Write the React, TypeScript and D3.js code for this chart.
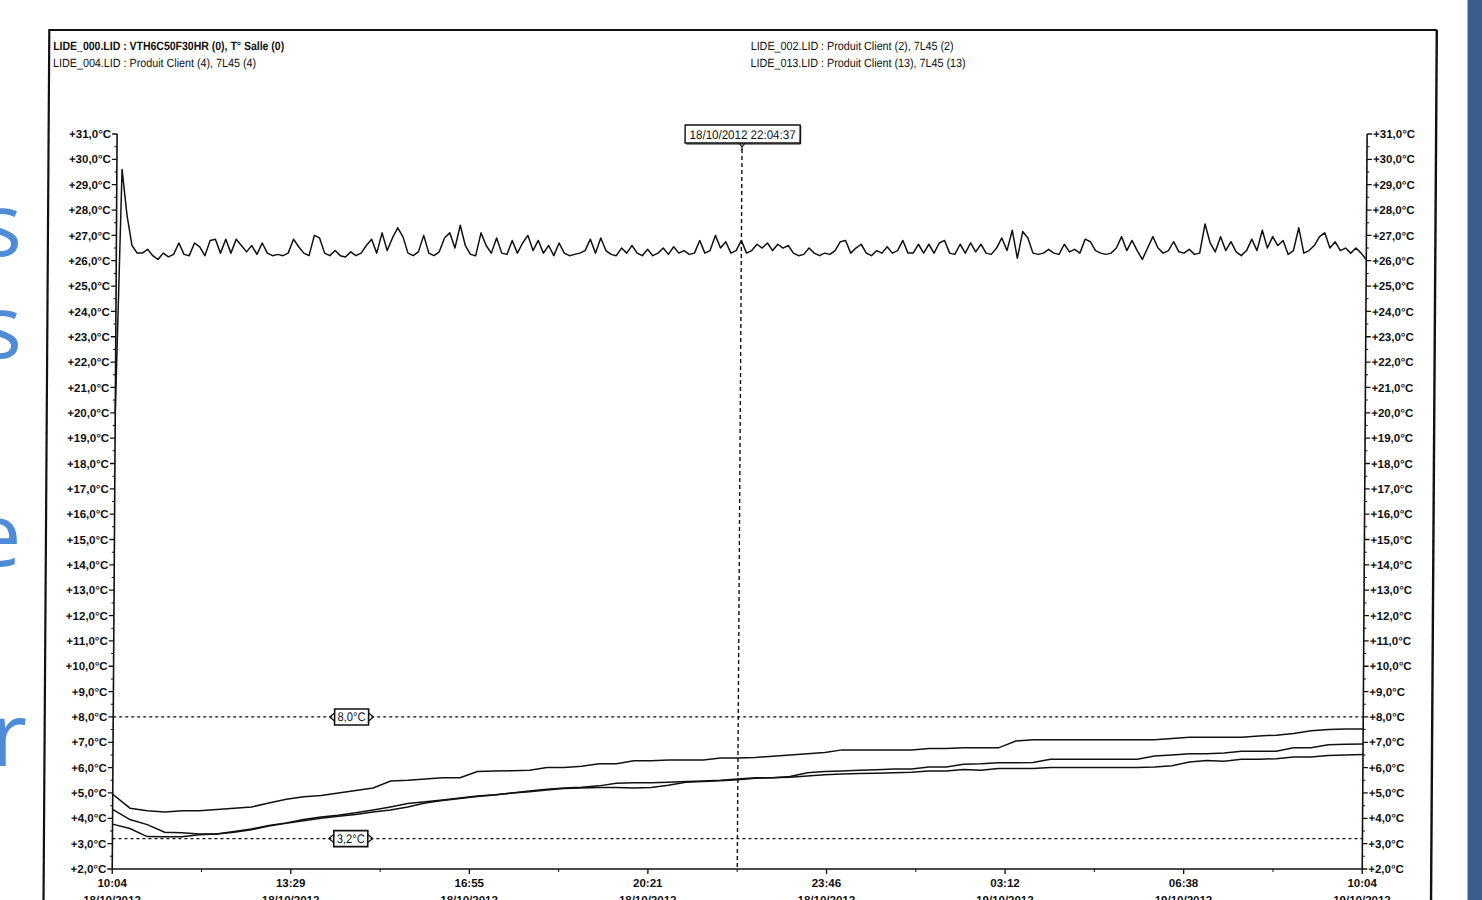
import React from "react";
import * as d3 from "d3";

// ---------- DATA ----------
const legendLeft = [
  "LIDE_000.LID : VTH6C50F30HR (0), T° Salle (0)",
  "LIDE_004.LID : Produit Client (4), 7L45 (4)",
];
const legendRight = [
  "LIDE_002.LID : Produit Client (2), 7L45 (2)",
  "LIDE_013.LID : Produit Client (13), 7L45 (13)",
];

// x axis: minutes since 18/10/2012 10:04
const timeTickMinutes = [0, 205.7, 411.4, 617.1, 822.9, 1028.6, 1234.3, 1440];
const timeTickLabels = ["10:04", "13:29", "16:55", "20:21", "23:46", "03:12", "06:38", "10:04"];
const timeTickDates = [
  "18/10/2012", "18/10/2012", "18/10/2012", "18/10/2012",
  "18/10/2012", "19/10/2012", "19/10/2012", "19/10/2012",
];

const thresholdValues = [8.0, 3.2];
const thresholdLabels = ["8,0°C", "3,2°C"];

const cursorMinute = 720;
const cursorLabel = "18/10/2012 22:04:37";

// LIDE_000 room temperature, one reading every 6 minutes
const ROOM_STEP_MIN = 6;
const roomTemp = [
  20.0, 29.6, 27.8, 26.6, 26.3, 26.3, 26.45, 26.2, 26.05, 26.3,
  26.15, 26.25, 26.7, 26.25, 26.2, 26.7, 26.55, 26.2, 26.8, 26.85,
  26.3, 26.85, 26.3, 26.85, 26.6, 26.35, 26.6, 26.25, 26.7, 26.3,
  26.2, 26.25, 26.2, 26.3, 26.85, 26.55, 26.3, 26.2, 27.0, 26.9,
  26.3, 26.2, 26.4, 26.2, 26.15, 26.35, 26.2, 26.3, 26.6, 26.85,
  26.3, 27.1, 26.4, 26.9, 27.3, 26.95, 26.3, 26.2, 26.35, 27.0,
  26.3, 26.2, 26.35, 26.9, 27.1, 26.5, 27.4, 26.6, 26.25, 26.2,
  27.1, 26.6, 26.3, 26.9, 26.3, 26.25, 26.8, 26.3, 26.7, 27.0,
  26.4, 26.8, 26.3, 26.6, 26.2, 26.7, 26.3, 26.2, 26.25, 26.3,
  26.4, 26.85, 26.3, 26.9, 26.4, 26.25, 26.2, 26.5, 26.3, 26.6,
  26.3, 26.2, 26.45, 26.2, 26.3, 26.5, 26.25, 26.55, 26.3, 26.4,
  26.25, 26.3, 26.8, 26.3, 26.4, 27.0, 26.5, 26.75, 26.3, 26.4,
  26.8, 26.3, 26.4, 26.65, 26.5, 26.7, 26.4, 26.65, 26.5, 26.6,
  26.3, 26.2, 26.25, 26.5, 26.3, 26.2, 26.3, 26.25, 26.4, 26.75,
  26.8, 26.3, 26.5, 26.65, 26.3, 26.2, 26.4, 26.3, 26.55, 26.3,
  26.4, 26.8, 26.3, 26.3, 26.65, 26.3, 26.65, 26.3, 26.7, 26.8,
  26.3, 26.25, 26.65, 26.3, 26.7, 26.35, 26.65, 26.3, 26.25, 26.5,
  26.9, 26.4, 27.2, 26.1, 27.15, 26.9, 26.3, 26.25, 26.3, 26.45,
  26.3, 26.25, 26.65, 26.35, 26.45, 26.3, 26.85, 26.75, 26.4, 26.3,
  26.25, 26.3, 26.5, 26.95, 26.4, 26.8, 26.4, 26.05, 26.5, 26.95,
  26.5, 26.3, 26.4, 26.75, 26.35, 26.3, 26.45, 26.25, 26.3, 27.45,
  26.7, 26.35, 26.95, 26.4, 26.75, 26.35, 26.2, 26.4, 26.85, 26.4,
  27.2, 26.5, 26.95, 26.6, 26.8, 26.25, 26.4, 27.3, 26.3, 26.4,
  26.6, 26.95, 27.1, 26.5, 26.75, 26.4, 26.5, 26.3, 26.5, 26.3,
  26.05,
];

// Product probes, one reading every 20 minutes
const PRODUCT_STEP_MIN = 20;
const productUpper = [
  4.95, 4.4, 4.3, 4.25, 4.3, 4.3, 4.35, 4.4, 4.45, 4.6,
  4.75, 4.85, 4.9, 5.0, 5.1, 5.2, 5.47, 5.5, 5.55, 5.6,
  5.6, 5.85, 5.87, 5.88, 5.9, 6.0, 6.0, 6.05, 6.15, 6.15,
  6.27, 6.27, 6.3, 6.3, 6.3, 6.38, 6.38, 6.4, 6.45, 6.5,
  6.55, 6.6, 6.7, 6.7, 6.7, 6.7, 6.7, 6.75, 6.75, 6.78,
  6.78, 6.78, 7.05, 7.1, 7.1, 7.1, 7.1, 7.1, 7.1, 7.1,
  7.1, 7.15, 7.2, 7.2, 7.2, 7.2, 7.25, 7.28, 7.35, 7.45,
  7.5, 7.52, 7.52,
];
const productMiddle = [
  4.35, 3.95, 3.75, 3.45, 3.43, 3.38, 3.38, 3.48, 3.58, 3.72,
  3.82, 3.95, 4.05, 4.12, 4.22, 4.33, 4.45, 4.58, 4.65, 4.72,
  4.8, 4.88, 4.93, 5.0, 5.08, 5.15, 5.2, 5.23, 5.28, 5.38,
  5.4, 5.4, 5.42, 5.45, 5.47, 5.5, 5.55, 5.6, 5.6, 5.65,
  5.8, 5.85, 5.87, 5.9, 5.92, 5.95, 5.95, 6.02, 6.02, 6.13,
  6.15, 6.19, 6.19, 6.2, 6.33, 6.33, 6.33, 6.33, 6.33, 6.33,
  6.46, 6.5, 6.55, 6.55, 6.58, 6.65, 6.65, 6.65, 6.78, 6.78,
  6.9, 6.92, 6.93,
];
const productLower = [
  3.77, 3.6, 3.28, 3.27, 3.27, 3.35, 3.38, 3.45, 3.55, 3.7,
  3.8, 3.9, 4.0, 4.08, 4.15, 4.25, 4.33, 4.45, 4.6, 4.7,
  4.78, 4.86, 4.92, 5.0, 5.05, 5.12, 5.18, 5.2, 5.22, 5.22,
  5.2, 5.22, 5.3, 5.42, 5.45, 5.48, 5.52, 5.58, 5.6, 5.62,
  5.67, 5.72, 5.75, 5.77, 5.78, 5.8, 5.82, 5.87, 5.87, 5.93,
  5.9, 5.97, 5.97, 5.97, 6.0, 6.0, 6.0, 6.0, 6.0, 6.0,
  6.02, 6.07, 6.22, 6.28, 6.25, 6.33, 6.33, 6.35, 6.42, 6.42,
  6.48, 6.5, 6.52,
];

// slide text fragments visible at the left edge
const slideLetters = ["s", "s", "e", "r"];

// ---------- COMPONENT ----------
const fmtTemp = (v: number) => `+${v.toFixed(1).replace(".", ",")}°C`;

export default function App() {
  const W = 1482;
  const H = 900;
  const x = d3.scaleLinear().domain([0, 1440]).range([118, 1368]);
  const y = d3.scaleLinear().domain([2, 31]).range([869, 134]);
  const [y0, y1] = y.domain();
  const majorY = d3.range(y0, y1 + 0.001, 1);
  const minorY = d3.range(y0, y1, 0.5).filter((v) => v % 1 !== 0);
  const minorX = timeTickMinutes.slice(1).map((m, i) => (m + timeTickMinutes[i]) / 2);

  const roomLine = d3
    .line<number>()
    .x((_, i) => x(i * ROOM_STEP_MIN))
    .y((d) => y(d));
  const prodLine = d3
    .line<number>()
    .x((_, i) => x(i * PRODUCT_STEP_MIN))
    .y((d) => y(d));

  const font = "'Liberation Sans', Arial, sans-serif";
  const xL = x.range()[0];
  const xR = x.range()[1];
  const yB = y.range()[0];
  const yT = y.range()[1];
  const cx = x(cursorMinute);

  const letterY = [256, 358, 566, 766];
  const letterX = [22, 22, 21.5, 27];
  const legendLeftW = [231, 203];
  const legendRightW = [203, 215];

  return (
    <div style={{ position: "fixed", left: 0, top: 0, width: W, height: H, background: "#fff" }}>
      <svg width={W} height={H} style={{ display: "block" }}>
        <rect width={W} height={H} fill="#fff" />
        {slideLetters.map((s, i) => (
          <text
            key={"l" + i}
            x={letterX[i]}
            y={letterY[i]}
            textAnchor="end"
            fontFamily="'Open Sans', 'Noto Sans', sans-serif"
            fontSize={88}
            fill="#4e8cd8"
          >
            {s}
          </text>
        ))}
        <rect x={1467.5} y={0} width={W - 1467.5} height={H} fill="#3b5e8c" />

        <g transform="skewX(-0.38)">
          {/* outer frame */}
          <line x1={48.5} y1={30} x2={1437} y2={30} stroke="#111" strokeWidth={2} />
          <line x1={49.5} y1={30} x2={49.5} y2={H + 10} stroke="#111" strokeWidth={2.2} />
          <line x1={1437} y1={30} x2={1437} y2={H + 10} stroke="#111" strokeWidth={2.4} />

          {/* legend */}
          {legendLeft.map((t, i) => (
            <text
              key={"ll" + i}
              x={53.5}
              y={50 + i * 17}
              fontFamily={font}
              fontSize={12}
              textLength={legendLeftW[i]}
              lengthAdjust="spacingAndGlyphs"
              fill="#111"
              fontWeight={i === 0 ? 600 : 400}
            >
              {t}
            </text>
          ))}
          {legendRight.map((t, i) => (
            <text
              key={"lr" + i}
              x={751}
              y={50 + i * 17}
              fontFamily={font}
              fontSize={12}
              textLength={legendRightW[i]}
              lengthAdjust="spacingAndGlyphs"
              fill="#111"
            >
              {t}
            </text>
          ))}

          {/* left / right / bottom axes */}
          <line x1={xL} y1={yT} x2={xL} y2={yB} stroke="#111" strokeWidth={1.6} />
          <line x1={xR} y1={yT} x2={xR} y2={yB} stroke="#111" strokeWidth={1.6} />
          <line x1={xL} y1={yB} x2={xR} y2={yB} stroke="#111" strokeWidth={1.6} />

          {majorY.map((v) => (
            <g key={"my" + v}>
              <line x1={xL - 5} x2={xL} y1={y(v)} y2={y(v)} stroke="#111" strokeWidth={1.3} />
              <line x1={xR} x2={xR + 5} y1={y(v)} y2={y(v)} stroke="#111" strokeWidth={1.3} />
              <text
                x={xL - 6}
                y={y(v)}
                dy="0.36em"
                textAnchor="end"
                fontFamily={font}
                fontWeight="bold"
                fontSize={11.5}
                fill="#111"
              >
                {fmtTemp(v)}
              </text>
              <text
                x={xR + 6}
                y={y(v)}
                dy="0.36em"
                textAnchor="start"
                fontFamily={font}
                fontWeight="bold"
                fontSize={11.5}
                fill="#111"
              >
                {fmtTemp(v)}
              </text>
            </g>
          ))}
          {minorY.map((v) => (
            <g key={"mi" + v}>
              <line x1={xL - 2.5} x2={xL} y1={y(v)} y2={y(v)} stroke="#111" strokeWidth={1} />
              <line x1={xR} x2={xR + 2.5} y1={y(v)} y2={y(v)} stroke="#111" strokeWidth={1} />
            </g>
          ))}

          {timeTickMinutes.map((m, i) => (
            <g key={"tx" + i}>
              <line x1={x(m)} x2={x(m)} y1={yB} y2={yB + 5} stroke="#111" strokeWidth={1.3} />
              <text
                x={x(m)}
                y={887}
                textAnchor="middle"
                fontFamily={font}
                fontWeight="bold"
                fontSize={11.5}
                fill="#111"
              >
                {timeTickLabels[i]}
              </text>
              <text
                x={x(m)}
                y={904}
                textAnchor="middle"
                fontFamily={font}
                fontWeight="bold"
                fontSize={11.5}
                fill="#111"
              >
                {timeTickDates[i]}
              </text>
            </g>
          ))}
          {minorX.map((m, i) => (
            <line key={"mx" + i} x1={x(m)} x2={x(m)} y1={yB} y2={yB + 3} stroke="#111" strokeWidth={1} />
          ))}

          {/* thresholds */}
          {thresholdValues.map((v, i) => {
            const ty = y(v);
            const bx = x(255);
            const bw = 34;
            return (
              <g key={"th" + i}>
                <line
                  x1={xL}
                  x2={xR}
                  y1={ty}
                  y2={ty}
                  stroke="#111"
                  strokeWidth={1.3}
                  strokeDasharray="3 3"
                />
                <path
                  d={`M${bx - 5},${ty} L${bx},${ty - 4} M${bx - 5},${ty} L${bx},${ty + 4} M${bx + bw + 5},${ty} L${bx + bw},${ty - 4} M${bx + bw + 5},${ty} L${bx + bw},${ty + 4}`}
                  stroke="#111"
                  strokeWidth={1.2}
                  fill="none"
                />
                <rect x={bx} y={ty - 8} width={bw} height={16} fill="#fff" stroke="#111" strokeWidth={1.6} />
                <text
                  x={bx + bw / 2}
                  y={ty}
                  dy="0.36em"
                  textAnchor="middle"
                  fontFamily={font}
                  fontSize={12.5}
                  textLength={28}
                  lengthAdjust="spacingAndGlyphs"
                  fill="#111"
                >
                  {thresholdLabels[i]}
                </text>
              </g>
            );
          })}

          {/* cursor */}
          <line
            x1={cx}
            x2={cx}
            y1={149}
            y2={yB}
            stroke="#111"
            strokeWidth={1.4}
            strokeDasharray="4 3"
          />
          <path d={`M${cx - 3},143 L${cx},147 L${cx + 3},143 M${cx},147 L${cx},150`} stroke="#111" strokeWidth={1.2} fill="none" />
          <rect x={cx - 57} y={125} width={115} height={18} fill="#fff" stroke="#111" strokeWidth={1.4} />
          <line x1={cx + 58.5} y1={126} x2={cx + 58.5} y2={144} stroke="#111" strokeWidth={1.2} />
          <line x1={cx - 56} y1={144} x2={cx + 58.5} y2={144} stroke="#111" strokeWidth={1.2} />
          <text
            x={cx + 0.5}
            y={134}
            dy="0.37em"
            textAnchor="middle"
            fontFamily={font}
            fontSize={12.5}
            textLength={106}
            lengthAdjust="spacingAndGlyphs"
            fill="#111"
          >
            {cursorLabel}
          </text>

          {/* series */}
          <path d={roomLine(roomTemp) || ""} fill="none" stroke="#111" strokeWidth={1.5} strokeLinejoin="round" />
          <path d={prodLine(productUpper) || ""} fill="none" stroke="#111" strokeWidth={1.5} />
          <path d={prodLine(productMiddle) || ""} fill="none" stroke="#111" strokeWidth={1.5} />
          <path d={prodLine(productLower) || ""} fill="none" stroke="#111" strokeWidth={1.5} />
        </g>
      </svg>
    </div>
  );
}
